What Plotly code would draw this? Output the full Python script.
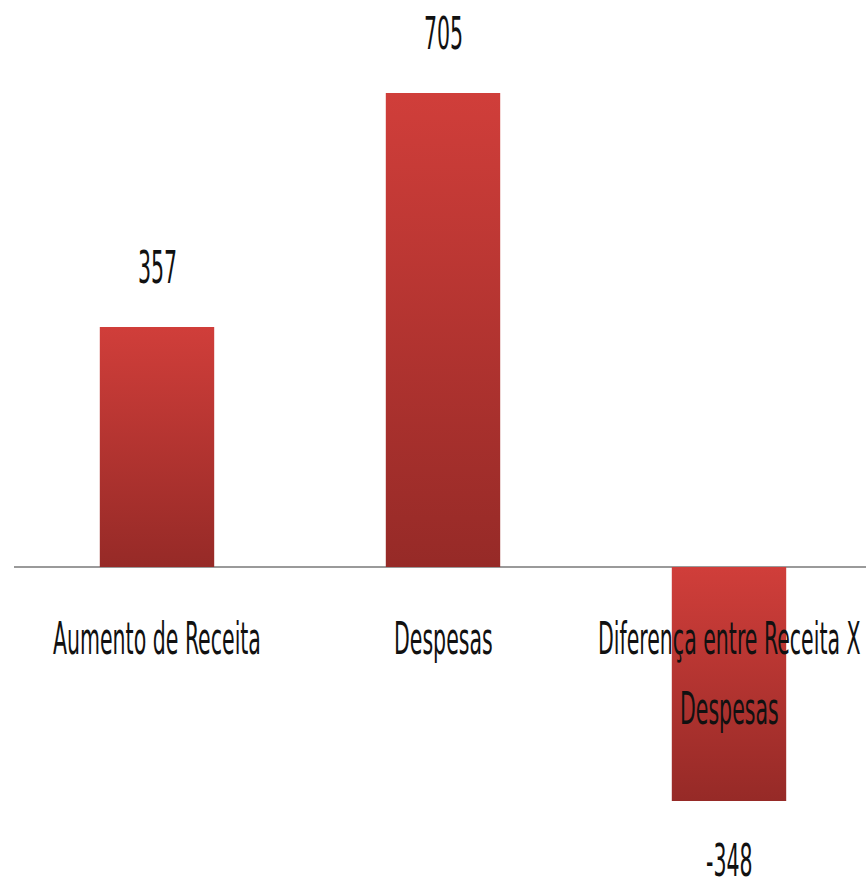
import plotly.graph_objects as go

categories = ["Aumento de Receita", "Despesas", "Diferença entre Receita X\nDespesas"]
values = [357, 705, -348]
value_labels = ["357", "705", "-348"]

FONT = "DejaVu Sans Condensed, DejaVu Sans, sans-serif"
bar_color = "#B53330"
FS = 22.8

fig = go.Figure()
fig.add_trace(go.Bar(
    x=list(range(len(categories))),
    y=values,
    width=0.4,
    marker=dict(color=bar_color, line=dict(width=0)),
    hoverinfo="skip",
))

annotations = []
for i, (v, t) in enumerate(zip(values, value_labels)):
    annotations.append(dict(
        x=i, y=v, xref="x", yref="y", text=t, showarrow=False,
        yshift=60 if v >= 0 else -59,
        font=dict(family=FONT, size=FS, color="#111111"),
        xanchor="center", yanchor="middle",
    ))
for i, cat in enumerate(categories):
    for j, line in enumerate(cat.split("\n")):
        annotations.append(dict(
            x=i, y=0, xref="x", yref="y", text=line, showarrow=False,
            yshift=-71 - 70 * j,
            font=dict(family=FONT, size=FS, color="#111111"),
            xanchor="center", yanchor="middle",
        ))

fig.update_layout(
    width=866, height=882,
    margin=dict(l=14, r=0, t=0, b=0),
    paper_bgcolor="white", plot_bgcolor="white",
    showlegend=False,
    xaxis=dict(range=[-0.5, -0.5 + 852 / 286], showticklabels=False, showgrid=False,
               zeroline=False, showline=False, ticks="", fixedrange=True),
    yaxis=dict(range=[-468.5, 843.2], showticklabels=False, showgrid=False,
               zeroline=True, zerolinecolor="#9A9A9A", zerolinewidth=2,
               showline=False, ticks="", fixedrange=True),
    annotations=annotations,
)

post = """
document.body.style.margin = '0';
document.body.style.overflow = 'hidden';
var gd = document.getElementById('{plot_id}');
function styleIt() {
  var svg = gd.querySelector('svg.main-svg');
  var defs = svg.querySelector('defs');
  var ns = 'http://www.w3.org/2000/svg';
  if (!document.getElementById('barGrad')) {
    var lg = document.createElementNS(ns, 'linearGradient');
    lg.setAttribute('id', 'barGrad');
    lg.setAttribute('x1', '0'); lg.setAttribute('y1', '0');
    lg.setAttribute('x2', '0'); lg.setAttribute('y2', '1');
    var s1 = document.createElementNS(ns, 'stop');
    s1.setAttribute('offset', '0'); s1.setAttribute('stop-color', '#D03E3A');
    var s2 = document.createElementNS(ns, 'stop');
    s2.setAttribute('offset', '1'); s2.setAttribute('stop-color', '#962A27');
    lg.appendChild(s1); lg.appendChild(s2);
    defs.appendChild(lg);
  }
  gd.querySelectorAll('.bars .point path').forEach(function(p) {
    p.style.fill = 'url(#barGrad)';
  });
}
styleIt();
var st = document.createElement('style');
st.textContent = '.annotation-text{transform-box:fill-box;transform-origin:center;transform:scaleY(1.95);}';
document.head.appendChild(st);
"""

fig.write_html("out.html", post_script=post, config={"displayModeBar": False})
